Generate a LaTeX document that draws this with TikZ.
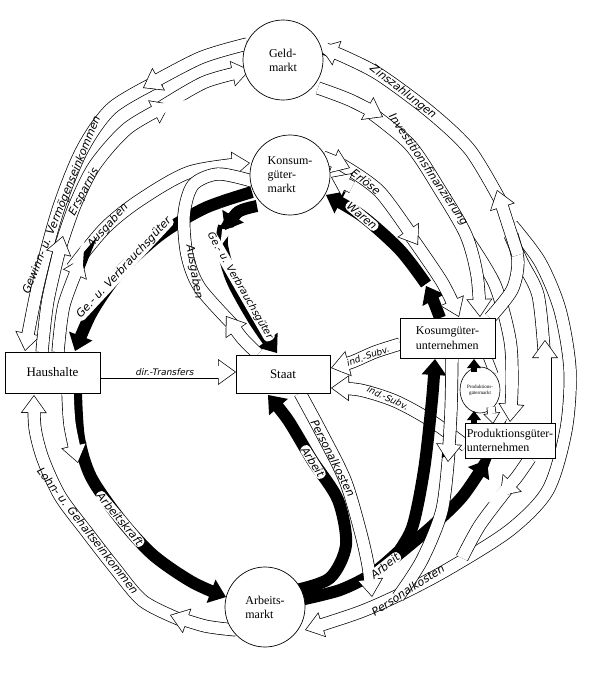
\documentclass[tikz,border=0pt]{standalone}
\usepackage{fontspec}
\setmainfont{Liberation Serif}
\newfontfamily\hand{DejaVu Sans}
\usetikzlibrary{arrows.meta,shapes.geometric}
\tikzset{
 hb/.style={draw=white, line width=11.6pt, preaction={draw=black, line width=13pt}},
 ha/.style={draw=white, line width=11.6pt, -{Triangle[length=16.1pt,width=23.3pt,line width=0pt]}, shorten >=1.2pt,
   preaction={draw=black, line width=13pt, -{Triangle[length=18pt,width=26pt,line width=0pt]}, shorten >=0pt}},
 hbs/.style={draw=white, line width=7.6pt, preaction={draw=black, line width=9pt}},
 has/.style={draw=white, line width=7.6pt, -{Triangle[length=9.15pt,width=14.1pt,line width=0pt]}, shorten >=1.15pt,
   preaction={draw=black, line width=9pt, -{Triangle[length=11pt,width=17pt,line width=0pt]}, shorten >=0pt}},
 bk/.style={draw=black, line width=12pt},
 bb/.style={draw=black, line width=12pt, -{Triangle[length=16pt,width=25pt,line width=0pt]}},
 bbw/.style={bb, preaction={draw=white, line width=14pt, -{Triangle[length=19pt,width=29pt,line width=0pt]}, shorten >=-1.6pt}},
 bbs/.style={draw=black, line width=6pt, -{Triangle[length=9pt,width=14pt,line width=0pt]}},
 lab/.style={font=\hand\itshape\fontsize{11}{12}\selectfont, inner sep=0pt},
 wlab/.style={lab, fill=white, rounded corners=4pt, inner xsep=2pt, inner ysep=1pt},
 circ/.style={circle, draw, fill=white, line width=0.7pt, minimum size=80pt, inner sep=0pt, align=left, font=\fontsize{12}{14}\selectfont},
 box/.style={rectangle, draw, fill=white, line width=0.8pt, inner sep=1pt, align=left, font=\fontsize{13}{15}\selectfont},
}
\begin{document}
\begin{tikzpicture}[x=1pt,y=-1pt]
\fill[white] (0,0) rectangle (591,675);
\useasboundingbox (0,0) rectangle (591,675);

% hollow band passing under the black ones
\draw[ha] plot[smooth] coordinates {(466,446) (430,420) (395,401) (360,390) (331,388)};

% ---------- black bands ----------
\draw[bb] plot[smooth] coordinates {(252,192) (205,208) (160,235) (120,272) (92,312) (75,351)};
\draw[bb] plot[smooth] coordinates {(224,226) (222,245) (232,280) (254,320) (277,353)};
\draw[bbw] plot[smooth] coordinates {(257,206) (238,212) (225,230)};
\draw[bb] plot[smooth] coordinates {(426,284) (400,250) (362,216) (326,195)};
\draw[bbw] plot[smooth] coordinates {(440,318) (433,300) (426,286)};
\draw[bb] plot[smooth] coordinates {(76,393) (79,438) (91,477) (120,519) (153,555) (192,582) (226,597)};
\draw[bb] plot[smooth] coordinates {(296,590) (330,578) (346,545) (338,500) (312,460) (288,420) (268,395)};
\draw[bk] plot[smooth] coordinates {(300,600) (340,590) (372,574) (398,552)};
\draw[bb] plot[smooth] coordinates {(394,558) (412,528) (424,470) (432,400) (435,359)};
\draw[bb] plot[smooth] coordinates {(394,558) (430,528) (462,497) (487,460)};

% ---------- hollow bands ----------
% Gewinn- u. Vermoegenseinkommen
\draw[ha] plot[smooth] coordinates {(160,80) (112,108) (82,150) (58,210) (38,285) (25,351)};
\draw[ha] plot[smooth] coordinates {(247,44) (200,58) (143,88)};
% Ersparnis
\draw[ha] plot[smooth] coordinates {(160,108) (205,82) (250,70)};
\draw[ha] plot[smooth] coordinates {(61,245) (75,205) (95,165) (128,128) (170,104)};
\draw[ha] plot[smooth] coordinates {(42,352) (48,300) (63,236)};
% Ausgaben (Haushalte)
\draw[ha] plot[smooth] coordinates {(72,268) (105,228) (140,200) (190,172) (250,163)};
\draw[ha] plot[smooth] coordinates {(58,352) (64,305) (82,258)};
% Ausgaben (Staat)
\draw[hb] plot[smooth] coordinates {(236,328) (200,288) (187,255) (184,215) (193,185) (218,174) (252,181)};
\draw[ha] plot[smooth] coordinates {(258,354) (242,338) (226,316)};
% Erloese
\draw[ha] plot[smooth] coordinates {(410,235) (442,282) (459,317)};
\draw[ha] plot[smooth] coordinates {(342,165) (380,192) (418,245)};
\draw[ha] plot[smooth] coordinates {(323,157) (350,168)};
\draw[ha] plot[smooth] coordinates {(352,187) (331,177)};
% Investitionsfinanzierung
\draw[ha] plot[smooth] coordinates {(468,240) (495,285) (510,340) (512,385) (510,422)};
\draw[ha] plot[smooth] coordinates {(370,112) (410,145) (440,190) (466,235) (477,275) (480,317)};
\draw[ha] plot[smooth] coordinates {(318,88) (350,100) (383,117)};
% Zinszahlungen and outer Personalkosten
\draw[ha] plot[smooth] coordinates {(500,200) (470,150) (430,112) (380,75) (345,57) (320,47)};
\draw[ha] plot[smooth] coordinates {(512,225) (540,262) (560,310) (570,370) (566,430) (548,490) (510,530) (450,568) (405,592) (360,612) (305,630)};
\draw[hb] plot[smooth] coordinates {(544,350) (538,295) (522,262) (510,235)};
\draw[hb] plot[smooth] coordinates {(490,318) (512,290) (518,262) (512,235)};
\draw[ha] plot[smooth] coordinates {(518,255) (505,215) (497,190)};
\draw[ha] plot[smooth] coordinates {(545,423) (545,340)};
% Personalkosten branches
\draw[hb] plot[smooth] coordinates {(508,488) (480,525) (462,558)};
\draw[ha] plot[smooth] coordinates {(530,458) (516,478) (500,496)};
\draw[hb] plot[smooth] coordinates {(449,450) (442,510) (422,560) (398,597)};
\draw[ha] plot[smooth] coordinates {(452,358) (451,410) (448,462)};
\draw[ha] plot[smooth] coordinates {(300,393) (320,430) (345,480) (360,530) (368,565) (372,597)};
% Lohn- u. Gehaltseinkommen
\draw[ha] plot[smooth] coordinates {(181,620) (143,601) (114,567) (86,531) (60,496) (43,459) (35,428) (34,395)};
\draw[ha] plot[smooth] coordinates {(236,630) (205,626) (170,615)};
% overlay below Haushalte
\draw[ha] plot[smooth] coordinates {(68,394) (70,425) (78,463)};
% Transfers and Subventionen
\draw[ha] (100,372) -- (236,372);
\draw[ha] plot[smooth] coordinates {(400,344) (375,352) (352,362) (331,368)};
% Kosumgueter -> Produktionsguetermarkt
\draw[hbs] (487,356) -- (494,374);

% ---------- labels on bands ----------
\node[lab, rotate=68] (t1) at (62,205) {Gewinn- u. Vermögenseinkommen};
\node[lab, rotate=62] (t2) at (84,192) {Ersparnis};
\node[lab, rotate=48] (t3) at (108,226) {Ausgaben};
\node[wlab, rotate=47] (t4) at (124,268) {Ge.- u. Verbrauchsgüter};
\node[lab, rotate=-80] (t5) at (194,272) {Ausgaben};
\node[wlab, rotate=-60, font=\hand\itshape\fontsize{10}{11}\selectfont] (t6) at (240,286) {Ge.- u. Verbrauchsgüter};
\node[wlab, rotate=-40] (t7) at (362,216) {Waren};
\node[lab, rotate=-38] (t8) at (366,182) {Erlöse};
\node[lab, rotate=-38] (t9) at (403,92) {Zinszahlungen};
\node[lab, rotate=-56] (t10) at (428,170) {Investitionsfinanzierung};
\node[lab, font=\hand\itshape\fontsize{9}{10}\selectfont] (t11) at (165,372) {dir.-Transfers};
\node[lab, rotate=20, font=\hand\itshape\fontsize{9}{10}\selectfont] (t12) at (368,356) {ind.-Subv.};
\node[lab, rotate=-25, font=\hand\itshape\fontsize{9}{10}\selectfont] (t13) at (388,398) {ind.-Subv.};
\node[lab, rotate=-63] (t14) at (333,458) {Personalkosten};
\node[wlab, rotate=-58] (t15) at (313,462) {Arbeit};
\node[wlab, rotate=38] (t16) at (385,566) {Arbeit};
\node[lab, rotate=33] (t17) at (408,590) {Personalkosten};
\node[wlab, rotate=-50] (t18) at (120,519) {Arbeitskraft};
\node[lab, rotate=-52] (t19) at (88,531) {Lohn- u. Gehaltseinkommen};

% ---------- markets and sectors ----------
\node[circ] (gm) at (283,60) {Geld-\\markt};
\node[circ] (km) at (290,175) {Konsum-\\güter-\\markt};
\node[circ] (am) at (265,607) {Arbeits-\\markt};
\node[box, minimum width=95pt, minimum height=41pt] (hh) at (52.5,372.5) {Haushalte};
\node[box, minimum width=94pt, minimum height=38pt] (st) at (283,374) {Staat};
\node[box, minimum width=95pt, minimum height=40pt, font=\fontsize{12}{15}\selectfont] (ku) at (447.5,338) {Kosumgüter-\\unternehmen};
\node[ellipse, draw, fill=white, line width=0.6pt, minimum width=40pt, minimum height=46pt, inner sep=0pt, align=center, font=\fontsize{5}{6}\selectfont] (pm) at (480,390) {Produktions-\\gütermarkt};
\node[box, minimum width=90pt, minimum height=35pt, font=\fontsize{12}{14}\selectfont] (pu) at (510,440.5) {Produktionsgüter-\\unternehmen};

% small flows at the Produktionsguetermarkt
\draw[bbs] (474,372) -- (474,359);
\draw[bbs] (474,424) -- (474,411);
\draw[has] (491,407) -- (493,424);
\end{tikzpicture}
\end{document}
